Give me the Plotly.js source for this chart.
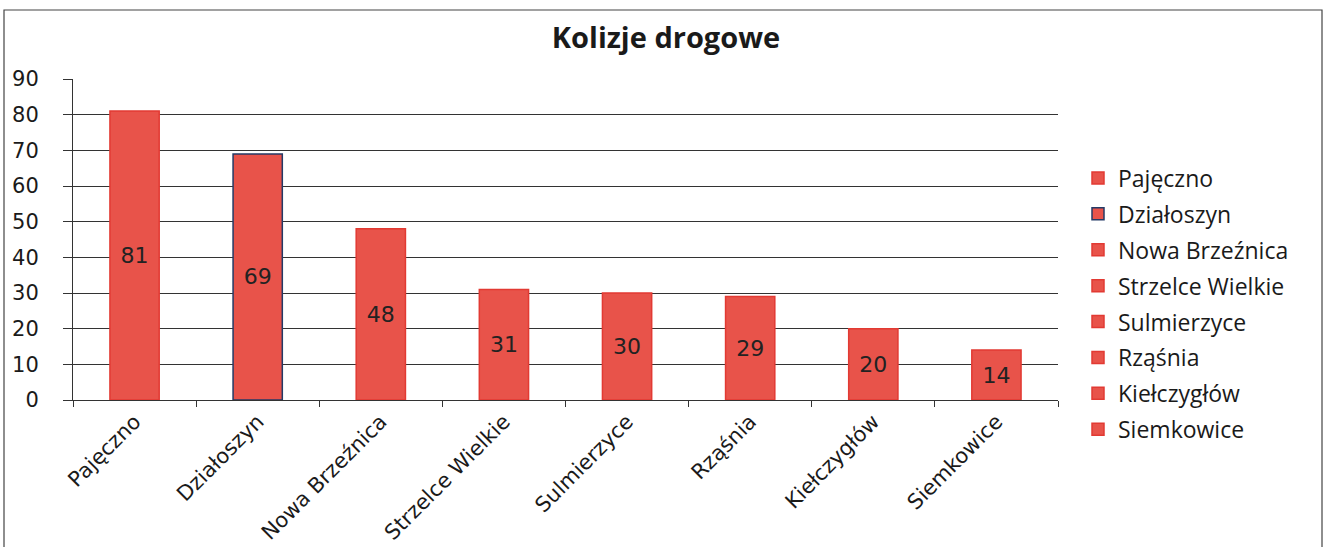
<!DOCTYPE html>
<html>
<head>
<meta charset="utf-8">
<script src="https://cdn.plot.ly/plotly-3.0.1.min.js"></script>
<style>
  html, body { margin: 0; padding: 0; background: #fff; }
  #chart { width: 1326px; height: 547px; }
</style>
</head>
<body>
<div id="chart"></div>
<script>
const categories = ["Pajęczno", "Działoszyn", "Nowa Brzeźnica", "Strzelce Wielkie", "Sulmierzyce", "Rząśnia", "Kiełczygłów", "Siemkowice"];
const values = [81, 69, 48, 31, 30, 29, 20, 14];
const yTicks = [0, 10, 20, 30, 40, 50, 60, 70, 80, 90];
const chartTitle = "Kolizje drogowe";

const fillColor = "#e8534a";
const edgeColors = ["#e23a33", "#243a66", "#e23a33", "#e23a33", "#e23a33", "#e23a33", "#e23a33", "#e23a33"];

const traces = categories.map((c, i) => ({
  type: "bar",
  name: c,
  x: [c],
  y: [values[i]],
  legendgroup: "g" + i,
  marker: { color: fillColor, line: { color: edgeColors[i], width: 1.5 } },
  text: [String(values[i])],
  textposition: "inside",
  insidetextanchor: "middle",
  constraintext: "none",
  textfont: { family: "DejaVu Sans, sans-serif", size: 22, color: "#222" },
  hoverinfo: "x+y"
}));

const PL = 73, PR = 1058, PT = 79, PB = 400;
const pw = PR - PL, ph = PB - PT;
const px = v => (v - PL) / pw;
const py = v => (PB - v) / ph;

const layout = {
  width: 1326,
  height: 547,
  margin: { l: PL, r: 1326 - PR, t: PT, b: 547 - PB, pad: 0 },
  paper_bgcolor: "#ffffff",
  plot_bgcolor: "#ffffff",
  barmode: "overlay",
  bargap: 0.6,
  showlegend: true,
  title: {
    text: "<b>" + chartTitle + "</b>",
    font: { family: "Open Sans, sans-serif", size: 29, color: "#1a1a1a" },
    x: 666 / 1326, xref: "container", xanchor: "center",
    y: 1 - 38 / 547, yref: "container", yanchor: "middle"
  },
  xaxis: {
    type: "category",
    categoryorder: "array",
    categoryarray: categories,
    tickangle: -45,
    tickfont: { family: "DejaVu Sans, sans-serif", size: 21, color: "#1a1a1a" },
    showline: true, linecolor: "#333", linewidth: 1,
    ticks: "outside", tickson: "boundaries", ticklen: 6, tickcolor: "#333",
    showgrid: false, zeroline: false, fixedrange: true
  },
  yaxis: {
    range: [0, 90],
    tickvals: yTicks,
    ticktext: yTicks.map(String),
    tickfont: { family: "DejaVu Sans, sans-serif", size: 21, color: "#1a1a1a" },
    showline: true, linecolor: "#333", linewidth: 1,
    ticks: "outside", ticklen: 9, tickcolor: "#333",
    ticklabelstandoff: 20,
    showgrid: true, gridcolor: "#333", gridwidth: 1,
    zeroline: false, fixedrange: true
  },
  legend: {
    x: px(1078), xanchor: "left",
    y: py(304), yanchor: "middle",
    font: { family: "Open Sans, sans-serif", size: 23, color: "#1a1a1a" },
    tracegroupgap: 3,
    bgcolor: "rgba(0,0,0,0)",
    itemclick: false, itemdoubleclick: false
  },
  shapes: [
    { type: "rect", xref: "paper", yref: "paper",
      x0: px(4), x1: px(1322), y0: py(560), y1: py(10),
      line: { color: "#444", width: 1.2 }, fillcolor: "rgba(0,0,0,0)", layer: "above" }
  ]
};

Plotly.newPlot("chart", traces, layout, { displayModeBar: false, staticPlot: true });
</script>
</body>
</html>
